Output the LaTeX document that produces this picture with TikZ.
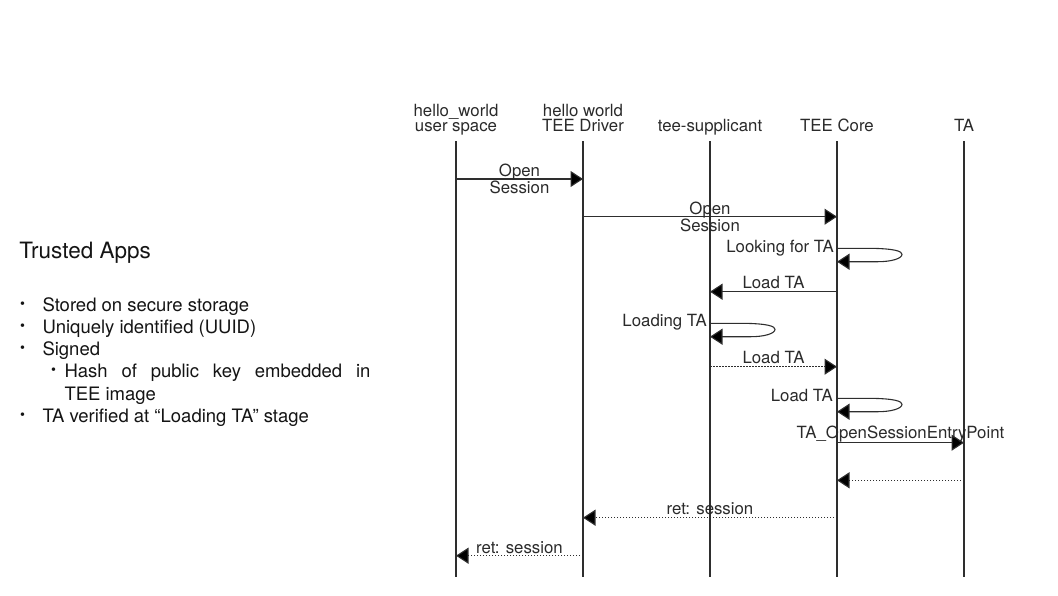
\documentclass[tikz,border=0pt]{standalone}
\usepackage{fontspec}
\setmainfont{TeX Gyre Heros}
\usetikzlibrary{arrows.meta,calc}
\definecolor{linegray}{HTML}{2E2E2E}
\definecolor{textgray}{HTML}{2A2A2A}
\definecolor{bodytext}{HTML}{141414}
\newcommand{\seqfont}{\fontsize{16.8}{15.4}\selectfont}
\newcommand{\bodyfont}{\fontsize{18.5}{22.5}\selectfont}
\newcommand{\dotfont}{\fontsize{14}{14}\selectfont}

\begin{document}
\begin{tikzpicture}[x=1pt,y=-1pt,
  head/.style = {anchor=south, inner sep=0pt, text depth=0pt, align=center, font=\seqfont, text=textgray},
  life/.style = {draw=linegray, line width=1.1pt},
  msg/.style = {draw=linegray, line width=1.1pt, -{Triangle[length=12.5pt,width=16pt,fill=black]}},
  ret/.style = {msg, dash pattern=on 1.5pt off 1.5pt},
  lbl/.style = {font=\seqfont, text=textgray, inner sep=0pt, text depth=0pt},
  selfloop/.style = {to path={-- ($(\tikztostart)+(33,0)$) .. controls ($(\tikztostart)+(58,0.3)$) and ($(\tikztostart)+(65,3)$) .. ($(\tikztostart)+(65,6)$) .. controls ($(\tikztotarget)+(65,-3)$) and ($(\tikztotarget)+(54,0)$) .. ($(\tikztotarget)+(41,0)$) -- (\tikztotarget)}},
  item/.style = {anchor=base west, inner sep=0pt, font=\bodyfont, text=bodytext},
  dot/.style = {anchor=base west, inner sep=0pt, font=\dotfont, text=bodytext}]
  \useasboundingbox (0,0) rectangle (1058,595);

  % left column
  \node[anchor=base west, inner sep=0pt, font=\fontsize{22.5}{27}\selectfont, text=bodytext] (title) at (19.3,258.3) {Trusted Apps};
  \node[dot] (d1) at (20,308) {\textbullet};
  \node[item] (i1) at (42.3,311) {Stored on secure storage};
  \node[dot] (d2) at (20,330) {\textbullet};
  \node[item] (i2) at (42.3,333) {Uniquely identified (UUID)};
  \node[dot] (d3) at (20,352.5) {\textbullet};
  \node[item] (i3) at (42.3,355.5) {Signed};
  \node[dot] (d4) at (51,374.5) {\textbullet};
  \node[item] (i4) at (64.3,377.5) {\makebox[306pt][s]{Hash of public key embedded in}};
  \node[item] (i5) at (64.3,400) {TEE image};
  \node[dot] (d5) at (20,419) {\textbullet};
  \node[item] (i6) at (42.3,422) {TA verified at “Loading TA” stage};

  % lifelines
  \node[head] (user) at (456,132) {hello\_world\\user space};
  \node[head] (driver) at (583,132) {hello world\\TEE Driver};
  \node[head] (supp) at (710,132) {tee-supplicant};
  \node[head] (core) at (837,132) {TEE Core};
  \node[head] (ta) at (964,132) {TA};
  \foreach \x [count=\i] in {456,583,710,837,964} {
    \coordinate (top\i) at (\x,141);
    \coordinate (bot\i) at (\x,577);
    \draw[life] (top\i) -- (bot\i);
  }

  % messages
  \coordinate (m1s) at (456,179);   \coordinate (m1e) at (583,179);
  \coordinate (m2s) at (583,216.7); \coordinate (m2e) at (837,216.7);
  \coordinate (l1s) at (837,248.3); \coordinate (l1e) at (837,261.7);
  \coordinate (m3s) at (837,291.7); \coordinate (m3e) at (710,291.7);
  \coordinate (l2s) at (710,323.3); \coordinate (l2e) at (710,336.7);
  \coordinate (m4s) at (710,366.7); \coordinate (m4e) at (837,366.7);
  \coordinate (l3s) at (837,398.3); \coordinate (l3e) at (837,411.7);
  \coordinate (m5s) at (837,442.7); \coordinate (m5e) at (964,442.7);
  \coordinate (m6s) at (964,480.3); \coordinate (m6e) at (837,480.3);
  \coordinate (m7s) at (837,517.7); \coordinate (m7e) at (583,517.7);
  \coordinate (m8s) at (583,555.7); \coordinate (m8e) at (456,555.7);

  \draw[msg] (m1s) -- node[lbl, align=center] (open1) {Open\\Session} (m1e);
  \draw[msg] (m2s) -- node[lbl, align=center] (open2) {Open\\Session} (m2e);
  \draw[msg] (l1s) to[selfloop] (l1e);
  \node[lbl, anchor=base east] (look) at ($(l1s)+(-3,4.4)$) {Looking for TA};
  \draw[msg] (m3s) -- node[lbl, above=2.4pt] (load1) {Load TA} (m3e);
  \draw[msg] (l2s) to[selfloop] (l2e);
  \node[lbl, anchor=base east] (loading) at ($(l2s)+(-3,3.4)$) {Loading TA};
  \draw[ret] (m4s) -- node[lbl, above=3pt] (load2) {Load TA} (m4e);
  \draw[msg] (l3s) to[selfloop] (l3e);
  \node[lbl, anchor=base east] (load3) at ($(l3s)+(-4,3.4)$) {Load TA};
  \draw[msg] (m5s) -- node[lbl, above=4pt] (entry) {TA\_OpenSessionEntryPoint} (m5e);
  \draw[ret] (m6s) -- (m6e);
  \draw[ret] (m7s) -- node[lbl, above=2.4pt] (ret1) {ret: session} (m7e);
  \draw[ret] (m8s) -- node[lbl, above=2pt] (ret2) {ret: session} (m8e);
\end{tikzpicture}
\end{document}
